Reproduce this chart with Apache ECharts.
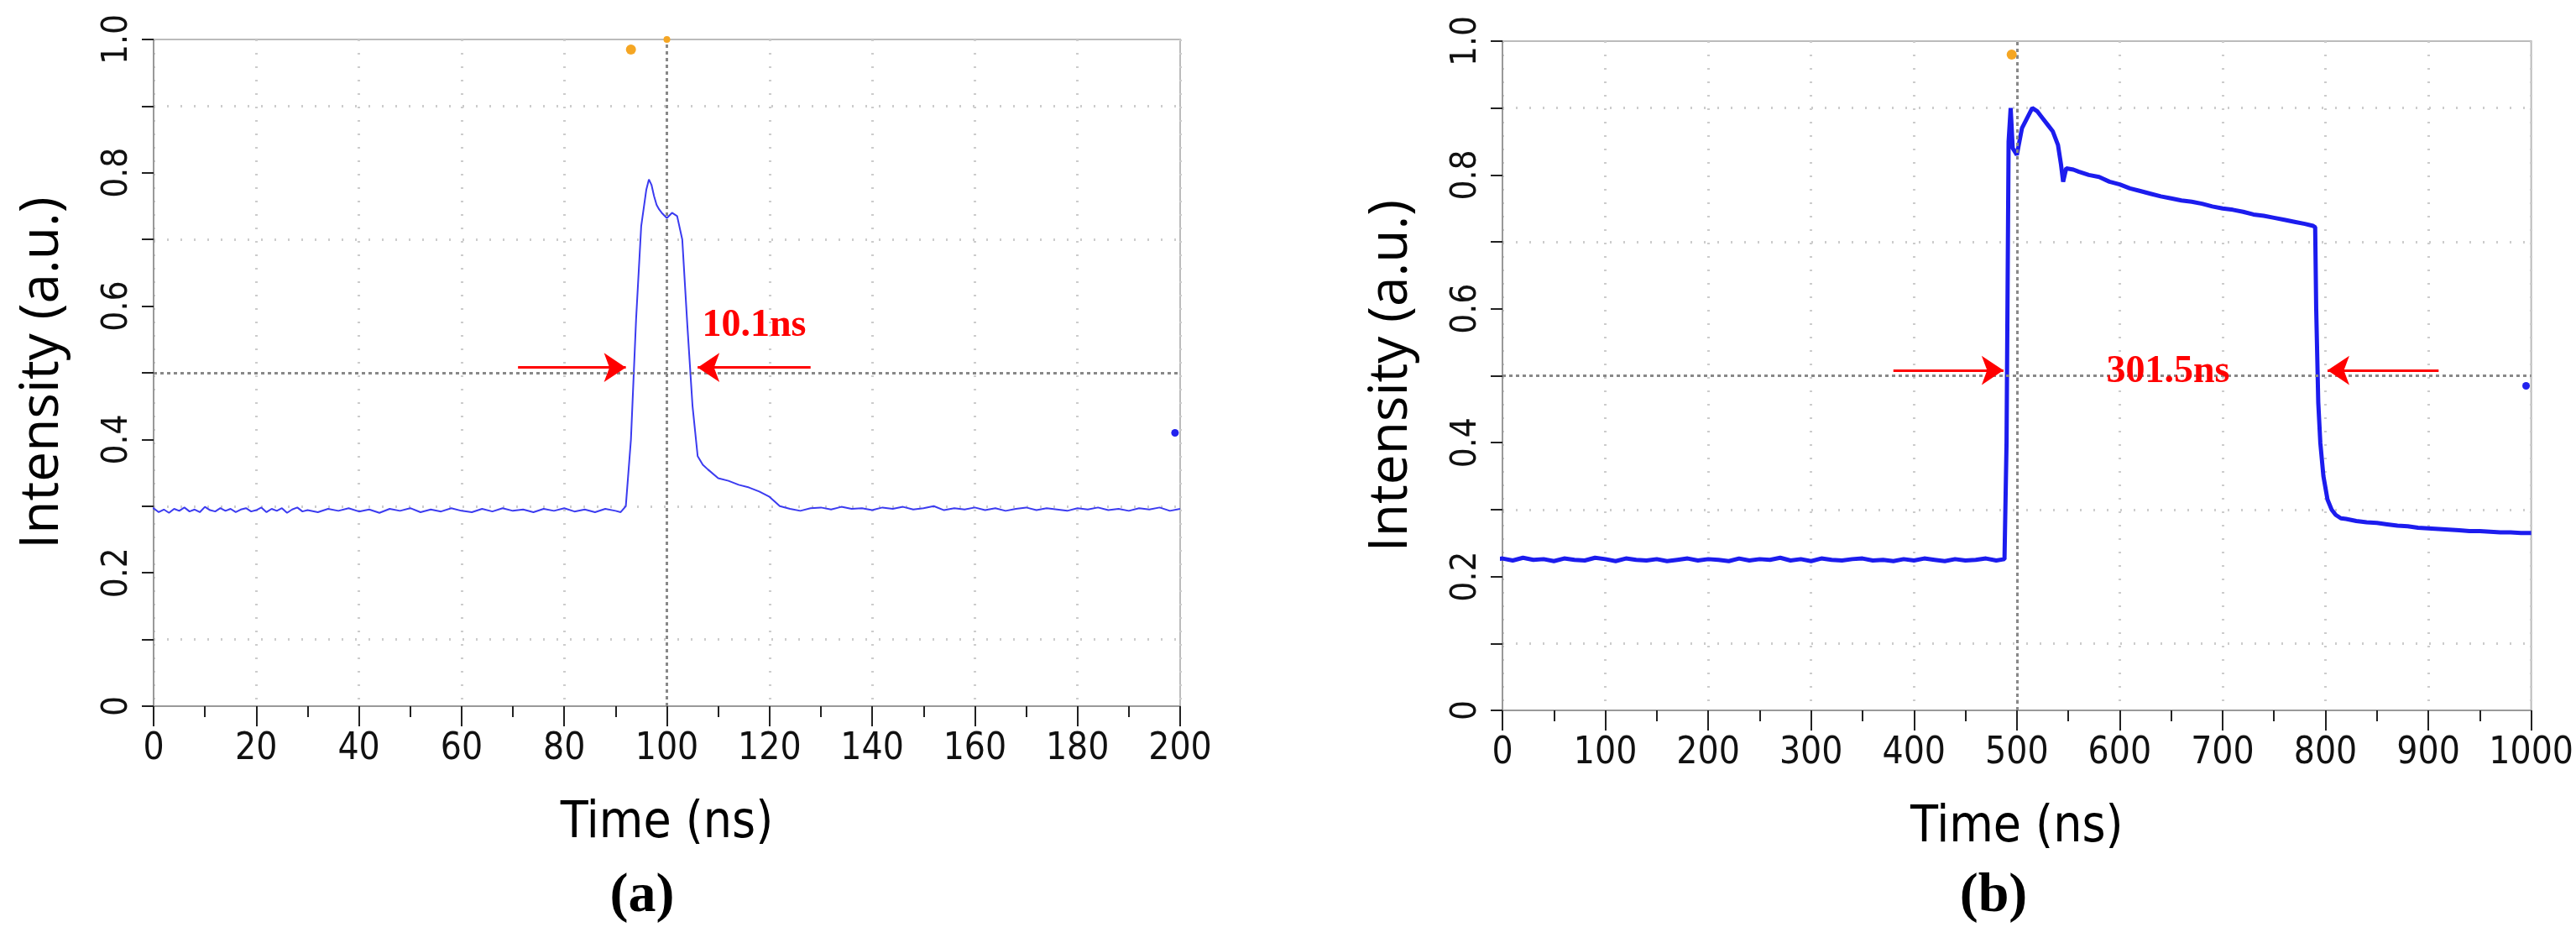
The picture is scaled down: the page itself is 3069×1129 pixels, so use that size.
<!DOCTYPE html>
<html><head><meta charset="utf-8">
<script src="https://cdn.jsdelivr.net/npm/echarts@6/dist/echarts.min.js"></script>
<style>html,body{margin:0;padding:0;background:#fff}#c{width:3069px;height:1129px}</style>
</head><body><div id="c"></div>
<script>
// Panel (a): time (ns) and intensity
const timeA = [-3,-2,0,1,2,3,4,5,6,7,8,9,10,11,12,13,14,15,16,17,18,19,20,21,22,23,24,25,26,27,28,29,30,32,34,36,38,40,42,44,46,48,50,52,54,56,58,60,62,64,66,68,70,72,74,76,78,80,82,84,86,88,90,91,92,93,94,95,96,96.5,97,97.5,98,98.5,99,100,101,102,103,104,105,106,107,108,110,112,114,116,118,120,122,124,126,128,130,132,134,136,138,140,142,144,146,148,150,152,154,156,158,160,162,164,166,168,170,172,174,176,178,180,182,184,186,188,190,192,194,196,198,200];
const intA  = [0.296,0.292,0.297,0.291,0.295,0.290,0.296,0.293,0.298,0.292,0.295,0.291,0.299,0.294,0.292,0.297,0.293,0.296,0.291,0.295,0.297,0.292,0.294,0.298,0.291,0.296,0.293,0.297,0.290,0.295,0.298,0.292,0.294,0.291,0.296,0.293,0.297,0.292,0.295,0.290,0.296,0.293,0.297,0.291,0.295,0.292,0.297,0.293,0.291,0.296,0.292,0.297,0.293,0.295,0.291,0.296,0.293,0.297,0.292,0.295,0.291,0.296,0.293,0.291,0.300,0.40,0.58,0.72,0.775,0.790,0.782,0.765,0.752,0.745,0.740,0.732,0.740,0.735,0.700,0.570,0.450,0.375,0.362,0.355,0.342,0.338,0.332,0.328,0.322,0.314,0.300,0.296,0.293,0.297,0.298,0.295,0.299,0.296,0.297,0.294,0.298,0.296,0.299,0.295,0.297,0.300,0.294,0.297,0.295,0.298,0.294,0.297,0.293,0.296,0.298,0.294,0.297,0.295,0.293,0.297,0.295,0.298,0.294,0.296,0.293,0.297,0.295,0.298,0.293,0.296];
// Panel (b)
const timeB = [-10,0,10,20,30,40,50,60,70,80,90,100,110,120,130,140,150,160,170,180,190,200,210,220,230,240,250,260,270,280,290,300,310,320,330,340,350,360,370,380,390,400,410,420,430,440,450,460,470,480,488,490,492,494,496,500,505,510,515,520,525,530,535,540,543,545,548,555,560,570,580,590,600,610,620,630,640,650,660,670,680,690,700,710,720,730,740,750,760,770,780,788,790,791,793,795,798,802,806,810,815,820,830,840,850,860,870,880,890,900,910,920,930,940,950,960,970,980,990,1000];
const intB  = [0.225,0.227,0.224,0.228,0.225,0.226,0.223,0.227,0.225,0.224,0.228,0.226,0.223,0.227,0.225,0.224,0.226,0.223,0.225,0.227,0.224,0.226,0.225,0.223,0.227,0.224,0.226,0.225,0.228,0.224,0.226,0.223,0.227,0.225,0.224,0.226,0.227,0.224,0.225,0.223,0.226,0.224,0.227,0.225,0.223,0.226,0.224,0.225,0.227,0.224,0.226,0.40,0.85,0.90,0.84,0.83,0.87,0.885,0.900,0.895,0.885,0.875,0.865,0.845,0.815,0.790,0.810,0.808,0.805,0.800,0.797,0.790,0.786,0.780,0.776,0.772,0.768,0.765,0.762,0.760,0.757,0.753,0.750,0.748,0.745,0.741,0.739,0.736,0.733,0.730,0.727,0.724,0.722,0.600,0.460,0.400,0.350,0.315,0.300,0.292,0.287,0.286,0.283,0.281,0.280,0.278,0.276,0.275,0.273,0.272,0.271,0.270,0.269,0.268,0.268,0.267,0.266,0.266,0.265,0.265];
const xTicksA = {min:0, max:200, step:20};
const xTicksB = {min:0, max:1000, step:100};
const fwhmA = "10.1ns", fwhmB = "301.5ns";

const zip = (x,y)=>x.map((v,i)=>[v,y[i]]);
const chart = echarts.init(document.getElementById('c'));
const tickFont = 'Liberation Sans Narrow, DejaVu Sans Condensed, sans-serif';
function xAx(idx,t){return {gridIndex:idx,type:'value',min:t.min,max:t.max,interval:t.step,
  name:'Time (ns)',nameLocation:'middle',nameGap:110,
  nameTextStyle:{fontSize:60,fontFamily:tickFont,color:'#000'},
  axisLine:{lineStyle:{color:'#999',width:2}},
  axisTick:{length:24,lineStyle:{color:'#222',width:2}},
  minorTick:{show:true,splitNumber:2,length:13,lineStyle:{color:'#222',width:2}},
  axisLabel:{fontSize:44,fontFamily:tickFont,color:'#111',margin:30,formatter:v=>String(v)},
  splitLine:{show:true,lineStyle:{color:'#ccc',type:[2,14],width:3}}};}
function yAx(idx){return {gridIndex:idx,type:'value',min:0,max:1,interval:0.2,
  name:'Intensity (a.u.)',nameLocation:'middle',nameGap:100,
  nameTextStyle:{fontSize:64,fontFamily:'Open Sans, sans-serif',color:'#000'},
  axisLine:{show:true,lineStyle:{color:'#999',width:2}},
  axisTick:{length:14,lineStyle:{color:'#222',width:2}},
  minorTick:{show:true,splitNumber:2,length:14,lineStyle:{color:'#222',width:2}},
  axisLabel:{fontSize:42,fontFamily:tickFont,color:'#111',rotate:90,margin:22,formatter:v=>v===0?'0':v.toFixed(1)},
  splitLine:{show:false},
  minorSplitLine:{show:true,lineStyle:{color:'#ccc',type:[2,14],width:3}}};}
const centre = {lineStyle:{color:'#888',type:[4,4],width:3}};
function arrows(a1,a2,b1,b2,y){
  return [[{coord:[a1,y],symbol:'none'},{coord:[a2,y],symbol:'arrow'}],
          [{coord:[b1,y],symbol:'none'},{coord:[b2,y],symbol:'arrow'}]];}
chart.setOption({
  animation:false,
  grid:[{left:183,right:3069-1406,top:47,bottom:1129-841,show:true,borderColor:'#bbb',borderWidth:2},
        {left:1790,right:3069-3016,top:49,bottom:1129-846,show:true,borderColor:'#bbb',borderWidth:2}],
  xAxis:[xAx(0,xTicksA),xAx(1,xTicksB)],
  yAxis:[yAx(0),yAx(1)],
  title:[{text:'(a)',left:760,top:1030,textAlign:'center',textStyle:{fontSize:66,fontFamily:'Liberation Serif, serif',fontWeight:'bold',color:'#000'}},
         {text:'(b)',left:2370,top:1030,textAlign:'center',textStyle:{fontSize:66,fontFamily:'Liberation Serif, serif',fontWeight:'bold',color:'#000'}}],
  series:[
    {type:'line',xAxisIndex:0,yAxisIndex:0,data:zip(timeA,intA),showSymbol:false,lineStyle:{color:'#3b3bf0',width:2},
     markLine:{silent:true,symbol:'none',label:{show:false},lineStyle:centre.lineStyle,data:[{xAxis:100},{yAxis:0.5}]},
     markPoint:{data:[{coord:[93,0.985],symbol:'circle',symbolSize:12,itemStyle:{color:'#f5a623'}},
                       {coord:[100,1.0],symbol:'circle',symbolSize:8,itemStyle:{color:'#f5a623'}},
                       {coord:[199,0.41],symbol:'circle',symbolSize:9,itemStyle:{color:'#2222ee'}},
                       {coord:[117,0.57],symbol:'circle',symbolSize:0,label:{show:true,formatter:fwhmA,color:'#ff0000',fontSize:46,fontWeight:'bold',fontFamily:'Liberation Serif, serif'}}],label:{show:false}}},
    {type:'line',xAxisIndex:0,yAxisIndex:0,data:[],
     markLine:{silent:true,label:{show:false},symbolSize:26,lineStyle:{color:'#ff0000',width:3,type:'solid'},data:arrows(71,92,128,106,0.508)}},
    {type:'line',xAxisIndex:1,yAxisIndex:1,data:zip(timeB,intB),showSymbol:false,lineStyle:{color:'#1c1cee',width:5},
     markLine:{silent:true,symbol:'none',label:{show:false},lineStyle:centre.lineStyle,data:[{xAxis:500},{yAxis:0.5}]},
     markPoint:{data:[{coord:[495,0.98],symbol:'circle',symbolSize:12,itemStyle:{color:'#f5a623'}},
                       {coord:[995,0.485],symbol:'circle',symbolSize:9,itemStyle:{color:'#2222ee'}},
                       {coord:[647,0.505],symbol:'circle',symbolSize:0,label:{show:true,formatter:fwhmB,color:'#ff0000',fontSize:46,fontWeight:'bold',fontFamily:'Liberation Serif, serif'}}],label:{show:false}}},
    {type:'line',xAxisIndex:1,yAxisIndex:1,data:[],
     markLine:{silent:true,label:{show:false},symbolSize:26,lineStyle:{color:'#ff0000',width:3,type:'solid'},data:arrows(380,487,910,802,0.508)}}
  ]
});
</script></body></html>
